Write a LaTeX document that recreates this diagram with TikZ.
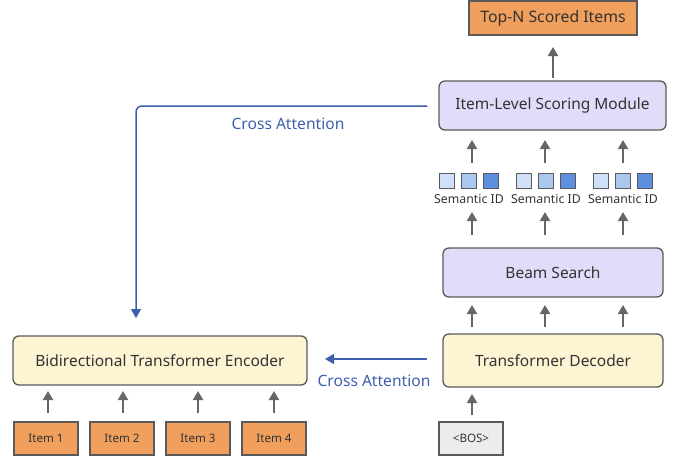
\documentclass[tikz,border=0pt]{standalone}
\usepackage{fontspec}
\setmainfont{Noto Sans}
\usetikzlibrary{arrows.meta}
\definecolor{orng}{HTML}{F0A05C}
\definecolor{purp}{HTML}{E1DCFA}
\definecolor{yell}{HTML}{FDF4D3}
\definecolor{bosg}{HTML}{ECECEC}
\definecolor{edge}{HTML}{5A5A5A}
\definecolor{arrg}{HTML}{666666}
\definecolor{blu}{HTML}{3E5FAE}
\definecolor{sq1}{HTML}{CFE0F8}
\definecolor{sq2}{HTML}{AAC7EE}
\definecolor{sq3}{HTML}{5F90E0}
\tikzset{
  box/.style={draw=edge, line width=1.3pt, rounded corners=6pt, inner sep=0pt, font=\fontsize{15.5}{17}\selectfont, text=black!80},
  flat/.style={draw=edge, line width=1.3pt, inner sep=0pt, text=black!80},
  sq/.style={draw=edge, line width=1.1pt, minimum width=14.5pt, minimum height=15pt, inner sep=0pt},
  up/.style={draw=arrg, line width=2pt, -{Triangle[width=10pt,length=9pt]}},
  ca/.style={draw=blu, line width=1.5pt, -{Triangle[width=10pt,length=9pt]}},
  lbl/.style={font=\fontsize{15.6}{17}\selectfont, text=blu},
  sid/.style={font=\fontsize{12.3}{14}\selectfont, text=black!80},
}
\begin{document}
\begin{tikzpicture}[x=1pt,y=-1pt]
\useasboundingbox (0,0) rectangle (685,458);
% boxes
\node[flat, fill=orng, minimum width=168pt, minimum height=34pt, font=\fontsize{15.8}{17}\selectfont] (top) at (553,18) {Top-N Scored Items};
\node[box, fill=purp, minimum width=227pt, minimum height=49pt] (ilsm) at (552.5,105.5) {Item-Level Scoring Module};
\node[box, fill=purp, minimum width=220pt, minimum height=49pt] (beam) at (553,272.5) {Beam Search};
\node[box, fill=yell, minimum width=220pt, minimum height=53pt] (dec) at (553,360.5) {Transformer Decoder};
\node[box, fill=yell, minimum width=294pt, minimum height=49pt] (enc) at (160,360.5) {Bidirectional Transformer Encoder};
\node[flat, fill=bosg, minimum width=64pt, minimum height=33pt, font=\fontsize{11.6}{13}\selectfont] (bos) at (471,438.5) {<BOS>};
\foreach \i/\x in {1/46,2/122,3/198,4/274}{
  \node[flat, fill=orng, minimum width=64pt, minimum height=33pt, font=\fontsize{11.6}{13}\selectfont] (it\i) at (\x,438.5) {Item \i};
}
% semantic ids
\foreach \g/\x in {1/469,2/546,3/623}{
  \node[sq, fill=sq1] (s\g a) at (\x-22,181) {};
  \node[sq, fill=sq2] (s\g b) at (\x,181) {};
  \node[sq, fill=sq3] (s\g c) at (\x+22,181) {};
  \node[sid] (sid\g) at (\x,199) {Semantic ID};
}
% arrows
\draw[up] (ilsm.north) ++(0.5,-2) -- (top.south |- 0,47);
\foreach \x in {472,545,623}{
  \draw[up] (\x,163) -- (\x,140);
  \draw[up] (\x,235) -- (\x,212);
  \draw[up] (\x,327) -- (\x,305);
}
\draw[up] (bos.north -| 472,0) ++(0,-6) -- (472,394);
\foreach \i/\x in {1/48,2/123,3/198,4/274}{
  \draw[up] (\x,413) -- (\x,391);
}
% cross attention
\draw[ca] (dec.west) ++(-15,-1.5) coordinate (d1) -- (325,359) coordinate (d2);
\node[lbl] (cal1) at (374,381) {Cross Attention};
\draw[ca, rounded corners=6pt] (ilsm.west |- 0,106) coordinate (c1) ++(-11,0) -- (136,106) -- (136,318);
\node[lbl] (cal2) at (288,124) {Cross Attention};
\end{tikzpicture}
\end{document}
